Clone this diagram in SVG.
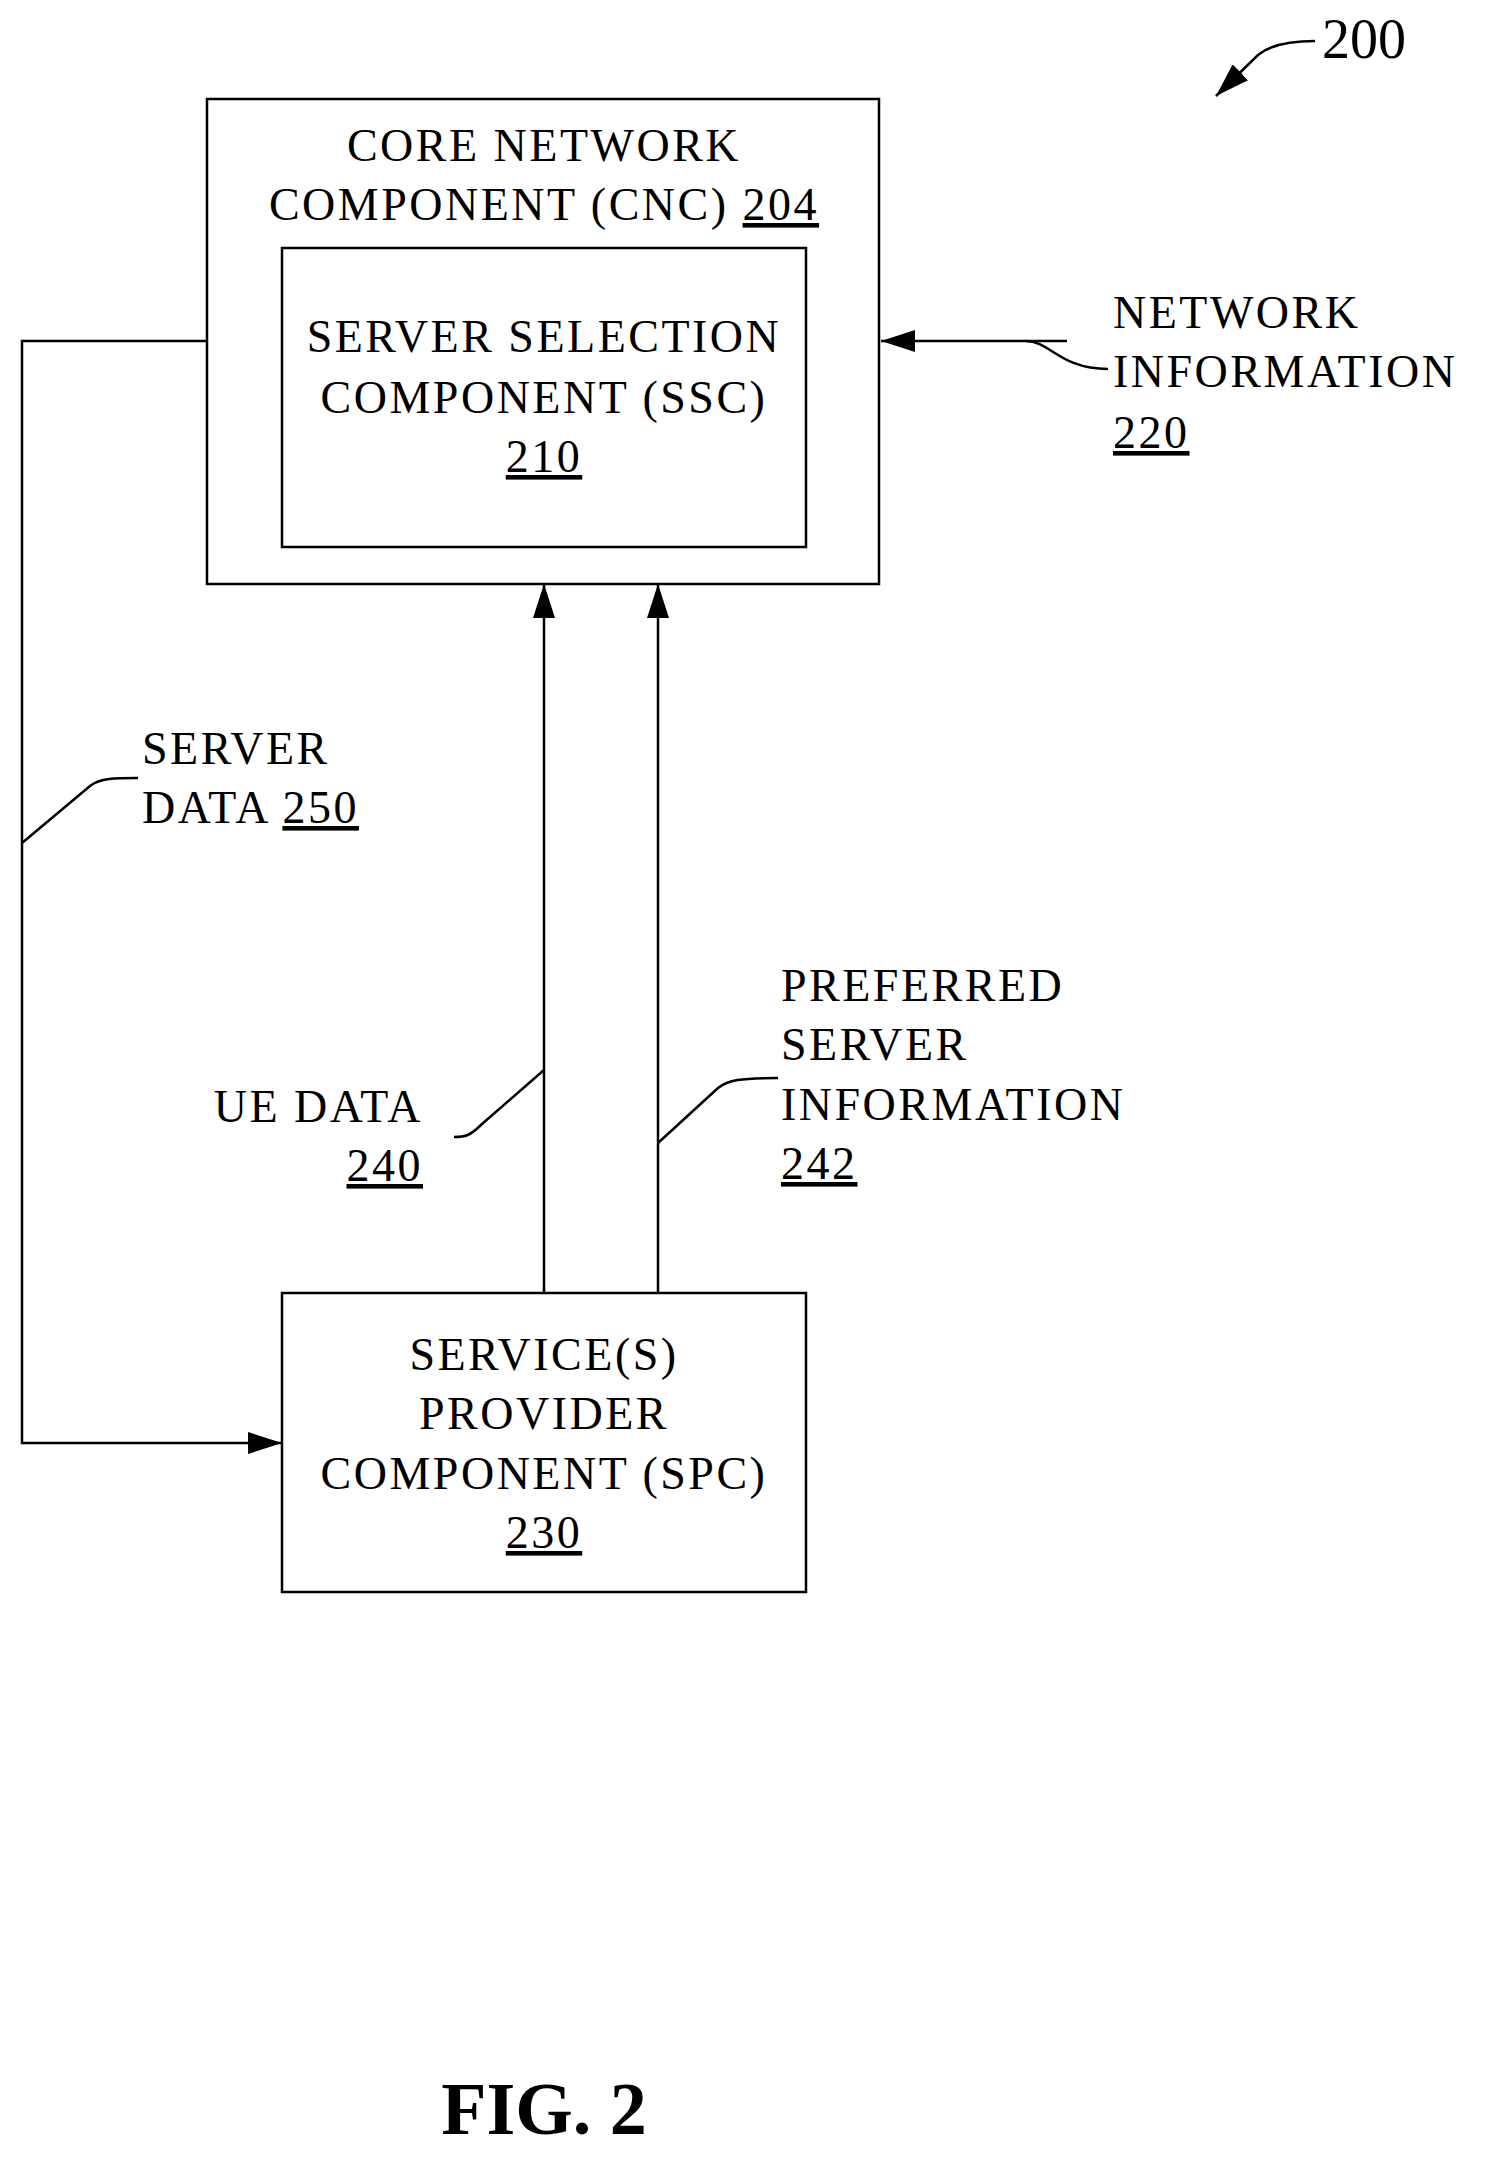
<svg xmlns="http://www.w3.org/2000/svg" width="1487" height="2169" viewBox="0 0 1487 2169">
<defs>
<marker id="ahb" markerWidth="34" markerHeight="22" refX="34" refY="11" orient="auto" markerUnits="userSpaceOnUse" viewBox="0 0 34 22"><path d="M0,0 L34,11 L0,22 z" fill="#000"/></marker>
<style>
text{font-family:"Liberation Serif","Times New Roman",serif;font-size:46px;letter-spacing:2.5px;fill:#000}
.c{text-anchor:middle}
.b{fill:none;stroke:#000;stroke-width:2.5}
.l{fill:none;stroke:#000;stroke-width:2.5}
.u{text-decoration:underline}
</style>
</defs>
<rect width="1487" height="2169" style="fill:#fff;stroke:none"/>
<g id="cnc">
<rect class="b" x="207" y="99" width="672" height="485"/>
<text class="c" x="544" y="161">CORE NETWORK</text>
<text class="c" x="544" y="220">COMPONENT (CNC) <tspan class="u">204</tspan></text>
</g>
<g id="ssc">
<rect class="b" x="282" y="248" width="524" height="299"/>
<text class="c" x="544" y="352">SERVER SELECTION</text>
<text class="c" x="544" y="413">COMPONENT (SSC)</text>
<text class="c u" x="544" y="472">210</text>
</g>
<g id="spc">
<rect class="b" x="282" y="1293" width="524" height="299"/>
<text class="c" x="544" y="1370">SERVICE(S)</text>
<text class="c" x="544" y="1429">PROVIDER</text>
<text class="c" x="544" y="1489">COMPONENT (SPC)</text>
<text class="c u" x="544" y="1548">230</text>
</g>
<g id="connectors">
<path class="l" d="M207,341 H22 V1443 H282" marker-end="url(#ahb)"/>
<path class="l" d="M544,1293 V584" marker-end="url(#ahb)"/>
<path class="l" d="M658,1293 V584" marker-end="url(#ahb)"/>
<path class="l" d="M1067,341 H881" marker-end="url(#ahb)"/>
<path class="l" d="M1026,341 C1050,341 1060,369 1108,369"/>
<path class="l" d="M22,843 L90,786 C100,778 115,778 138,778"/>
<path class="l" d="M544,1070 L482,1124 C470,1136 465,1137 454,1137"/>
<path class="l" d="M658,1143 L718,1088 C728,1080 740,1078 778,1078"/>
<path class="l" d="M1315,41 C1290,41 1270,45 1258,55 L1216,96" marker-end="url(#ahb)"/>
</g>
<g id="labels">
<text x="1322" y="58" style="font-size:56px;letter-spacing:0">200</text>
<text x="1113" y="328">NETWORK</text>
<text x="1113" y="387">INFORMATION</text>
<text class="u" x="1113" y="448">220</text>
<text x="142" y="764">SERVER</text>
<text x="142" y="823">DATA <tspan class="u">250</tspan></text>
<text x="423" y="1122" text-anchor="end">UE DATA</text>
<text x="423" y="1181" text-anchor="end" class="u">240</text>
<text x="781" y="1001">PREFERRED</text>
<text x="781" y="1060">SERVER</text>
<text x="781" y="1120">INFORMATION</text>
<text x="781" y="1179" class="u">242</text>
<text class="c" x="544" y="2134" style="font-size:74px;font-weight:bold;letter-spacing:0">FIG. 2</text>
</g>
</svg>
